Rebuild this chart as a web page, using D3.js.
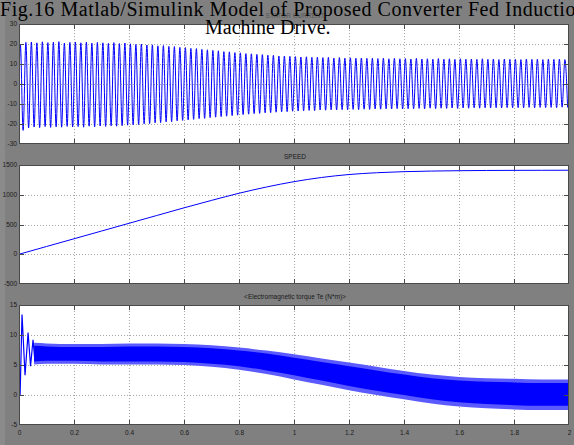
<!DOCTYPE html>
<html><head><meta charset="utf-8">
<script src="https://cdn.jsdelivr.net/npm/d3@7"></script>
<style>html,body{margin:0;padding:0;background:#808080;overflow:hidden}</style>
</head><body>
<svg id="c" width="574" height="445"></svg>
<script>
// ---------- data ----------
const xTicks = [0,0.2,0.4,0.6,0.8,1,1.2,1.4,1.6,1.8,2];
const xTickLabels = ["0","0.2","0.4","0.6","0.8","1","1.2","1.4","1.6","1.8","2"];
const currentTicks = [-30,-20,-10,0,10,20,30];
const speedTicks = [-500,0,500,1000,1500];
const torqueTicks = [-5,0,5,10,15];
const panelTitles = ["STATOR CURRENT","SPEED","<Electromagnetic torque Te (N*m)>"];

// stator current: peak value of each supply cycle (50 Hz)
const supplyFreq = 50;
const currentMax = [
 19.6,20.8,21.0,20.6,21.1,20.7,20.9,21.2,20.5,20.8,
 21.0,20.6,20.9,20.4,20.8,20.6,20.3,20.7,20.2,20.5,
 20.1,19.8,20.0,19.5,19.6,19.1,19.2,18.8,18.7,18.3,
 18.2,17.8,17.7,17.3,17.1,16.8,16.6,16.2,16.1,15.7,
 15.6,15.2,15.1,14.8,14.7,14.4,14.3,14.0,14.0,13.8,
 13.7,13.5,13.6,13.3,13.4,13.2,13.3,13.0,13.2,12.9,
 13.1,12.9,13.0,12.8,12.9,12.7,12.9,12.6,12.8,12.6,
 12.7,12.5,12.8,12.5,12.6,12.4,12.7,12.4,12.6,12.3,
 12.6,12.4,12.5,12.3,12.6,12.3,12.5,12.2,12.5,12.3,
 12.4,12.2,12.5,12.3,12.4,12.2,12.4,12.3,12.4,12.2];
const currentMin = [
 -23.2,-21.9,-21.5,-21.8,-21.3,-21.7,-21.4,-21.6,-21.2,-21.5,
 -21.3,-21.6,-21.1,-21.4,-21.0,-21.2,-20.9,-21.1,-20.8,-20.6,
 -20.4,-20.3,-19.9,-19.8,-19.4,-19.3,-18.9,-18.8,-18.4,-18.2,
 -17.9,-17.7,-17.3,-17.2,-16.8,-16.6,-16.3,-16.1,-15.8,-15.6,
 -15.3,-15.1,-14.8,-14.7,-14.4,-14.3,-14.1,-13.9,-13.8,-13.6,
 -13.5,-13.4,-13.2,-13.3,-13.0,-13.1,-12.9,-13.0,-12.8,-12.9,
 -12.7,-12.8,-12.6,-12.7,-12.5,-12.6,-12.4,-12.5,-12.3,-12.5,
 -12.3,-12.4,-12.2,-12.4,-12.1,-12.3,-12.1,-12.2,-12.0,-12.2,
 -12.0,-12.1,-11.9,-12.1,-11.9,-12.0,-11.8,-12.0,-11.8,-11.9,
 -11.8,-11.9,-11.7,-11.9,-11.7,-11.8,-11.7,-11.8,-11.6,-11.8];

// speed (rpm)
const speedT = [0,0.1,0.2,0.3,0.4,0.5,0.6,0.7,0.8,0.9,1.0,1.1,1.2,1.3,1.4,1.5,1.6,1.7,1.8,1.9,2.0];
const speedV = [0,130,260,390,520,650,780,905,1025,1130,1220,1290,1340,1370,1388,1398,1404,1408,1410,1411,1412];

// electromagnetic torque: start-up transient
const torqueTransT = [0,0.004,0.011,0.022,0.033,0.042,0.051,0.058];
const torqueTransV = [0,0,13.4,3.3,10.4,4.8,9.2,5.6];
// electromagnetic torque: ripple band envelopes
const torqueBandT    = [0.055,0.1,0.2,0.3,0.4,0.5,0.6,0.7,0.8,0.9,1.0,1.1,1.2,1.3,1.4,1.5,1.6,1.7,1.8,1.9,2.0];
const torqueOuterMax = [8.7,8.6,8.5,8.5,8.6,8.6,8.5,8.3,7.9,7.4,6.8,6.1,5.4,4.7,4.0,3.4,3.0,2.8,2.7,2.6,2.6];
const torqueCoreMax  = [8.2,8.1,8.0,8.0,8.1,8.1,8.0,7.8,7.4,6.9,6.2,5.5,4.8,4.1,3.4,2.8,2.4,2.2,2.1,2.0,2.0];
const torqueCoreMin  = [5.6,5.7,5.7,5.6,5.6,5.6,5.5,5.2,4.8,4.1,3.3,2.4,1.5,0.7,0.0,-0.7,-1.2,-1.5,-1.7,-1.8,-1.8];
const torqueOuterMin = [5.1,5.2,5.2,5.1,5.1,5.1,5.0,4.7,4.2,3.5,2.6,1.7,0.8,0.0,-0.7,-1.4,-1.9,-2.2,-2.4,-2.5,-2.5];

const captionLine1 = "Fig.16 Matlab/Simulink Model of Proposed Converter Fed Induction";
const captionLine2 = "Machine Drive.";

// ---------- drawing ----------
const W = 574, H = 445;
const svg = d3.select("#c");
svg.append("rect").attr("width", W).attr("height", H).attr("fill", "#808080");
svg.append("rect").attr("width", 5).attr("height", H).attr("fill", "#8b8b8b");

const x = d3.scaleLinear().domain([0, 2]).range([19, 569]);
const panels = [
  {top: 24,  bottom: 144, dom: [-30, 30],    ticks: currentTicks},
  {top: 165, bottom: 284, dom: [-500, 1500], ticks: speedTicks},
  {top: 305, bottom: 425, dom: [-5, 15],     ticks: torqueTicks}
];
const tickFont = "'Liberation Sans Narrow','Liberation Sans',Arial,sans-serif";

panels.forEach((p, i) => {
  p.y = d3.scaleLinear().domain(p.dom).range([p.bottom, p.top]);
  const g = svg.append("g");
  g.append("rect").attr("x", x(0)).attr("y", p.top)
    .attr("width", x(2) - x(0)).attr("height", p.bottom - p.top).attr("fill", "#fff");
  g.selectAll(".vg").data(xTicks.slice(1, -1)).join("line")
    .attr("x1", d => x(d) + 0.5).attr("x2", d => x(d) + 0.5)
    .attr("y1", p.top).attr("y2", p.bottom)
    .attr("stroke", "#a8a8a8").attr("stroke-dasharray", "1,2").attr("stroke-width", 1);
  g.selectAll(".hg").data(p.ticks.slice(1, -1)).join("line")
    .attr("y1", d => Math.round(p.y(d)) + 0.5).attr("y2", d => Math.round(p.y(d)) + 0.5)
    .attr("x1", x(0)).attr("x2", x(2))
    .attr("stroke", "#a8a8a8").attr("stroke-dasharray", "1,2").attr("stroke-width", 1);
  svg.append("clipPath").attr("id", "clip" + i).append("rect")
    .attr("x", x(0)).attr("y", p.top).attr("width", x(2) - x(0)).attr("height", p.bottom - p.top);
  p.plot = svg.append("g").attr("clip-path", `url(#clip${i})`);
  p.frame = svg.append("g");
  const fr = p.frame;
  fr.append("rect").attr("x", x(0) + 0.5).attr("y", p.top + 0.5)
    .attr("width", x(2) - x(0) - 1).attr("height", p.bottom - p.top - 1)
    .attr("fill", "none").attr("stroke", "#4a4a4a").attr("stroke-width", 1);
  xTicks.slice(1, -1).forEach(t => {
    fr.append("line").attr("x1", x(t) + 0.5).attr("x2", x(t) + 0.5).attr("y1", p.top).attr("y2", p.top + 5)
      .attr("stroke", "#4a4a4a");
    fr.append("line").attr("x1", x(t) + 0.5).attr("x2", x(t) + 0.5).attr("y1", p.bottom).attr("y2", p.bottom - 5)
      .attr("stroke", "#4a4a4a");
  });
  p.ticks.slice(1, -1).forEach(t => {
    const yy = Math.round(p.y(t)) + 0.5;
    fr.append("line").attr("x1", x(0)).attr("x2", x(0) + 5).attr("y1", yy).attr("y2", yy).attr("stroke", "#4a4a4a");
    fr.append("line").attr("x1", x(2)).attr("x2", x(2) - 5).attr("y1", yy).attr("y2", yy).attr("stroke", "#4a4a4a");
  });
  svg.append("g").selectAll("text").data(p.ticks).join("text")
    .attr("x", 17).attr("y", d => p.y(d) + 2.2)
    .attr("text-anchor", "end").attr("font-family", tickFont).attr("font-size", 6.5)
    .attr("fill", "#1a1a1a").text(d => d);
  svg.append("text").attr("x", 295).attr("y", p.top - 6)
    .attr("text-anchor", "middle").attr("font-family", tickFont).attr("font-size", 6.5)
    .attr("fill", i === 0 ? "#555" : "#1a1a1a").text(panelTitles[i]);
});

svg.append("g").selectAll("text").data(xTicks).join("text")
  .attr("x", d => x(d) + 0.5).attr("y", 435)
  .attr("text-anchor", "middle").attr("font-family", tickFont).attr("font-size", 6.5)
  .attr("fill", "#1a1a1a").text((d, i) => xTickLabels[i]);

// ---- current ----
const P0 = panels[0];
const curPts = [[0, 0]];
currentMax.forEach((m, i) => {
  curPts.push([(i + 0.25) / supplyFreq, m]);
  curPts.push([(i + 0.75) / supplyFreq, currentMin[i]]);
});
P0.plot.append("path").datum(curPts)
  .attr("d", d3.line().x(d => x(d[0])).y(d => P0.y(d[1])).curve(d3.curveMonotoneX))
  .attr("fill", "none").attr("stroke", "#0000ff").attr("stroke-width", 1);

// ---- speed ----
const P1 = panels[1];
P1.plot.append("path").datum(speedT.map((t, i) => [t, speedV[i]]))
  .attr("d", d3.line().x(d => x(d[0])).y(d => P1.y(d[1])).curve(d3.curveMonotoneX))
  .attr("fill", "none").attr("stroke", "#0000ff").attr("stroke-width", 1);

// ---- torque ----
const P2 = panels[2];
const bandData = torqueBandT.map((t, i) => ({t, oMax: torqueOuterMax[i], cMax: torqueCoreMax[i],
  cMin: torqueCoreMin[i], oMin: torqueOuterMin[i]}));
P2.plot.append("path").datum(bandData)
  .attr("d", d3.area().x(d => x(d.t)).y0(d => P2.y(d.oMin)).y1(d => P2.y(d.oMax)).curve(d3.curveMonotoneX))
  .attr("fill", "#5a5aff");
P2.plot.append("path").datum(bandData)
  .attr("d", d3.area().x(d => x(d.t)).y0(d => P2.y(d.cMin)).y1(d => P2.y(d.cMax)).curve(d3.curveMonotoneX))
  .attr("fill", "#0000ff");
P2.plot.append("path").datum(torqueTransT.map((t, i) => [t, torqueTransV[i]]))
  .attr("d", d3.line().x(d => x(d[0])).y(d => P2.y(d[1])))
  .attr("fill", "none").attr("stroke", "#0000ff").attr("stroke-width", 1.2);

panels.forEach(p => p.frame.raise());

// ---- caption overlay ----
svg.append("text").attr("x", 0).attr("y", 16)
  .attr("font-family", "'Liberation Serif','Times New Roman',serif").attr("font-size", 20)
  .attr("textLength", 586).attr("lengthAdjust", "spacing")
  .attr("fill", "#000").text(captionLine1);
svg.append("text").attr("x", 205).attr("y", 34)
  .attr("font-family", "'Liberation Serif','Times New Roman',serif").attr("font-size", 20)
  .attr("fill", "#000").text(captionLine2);
</script>
</body></html>
